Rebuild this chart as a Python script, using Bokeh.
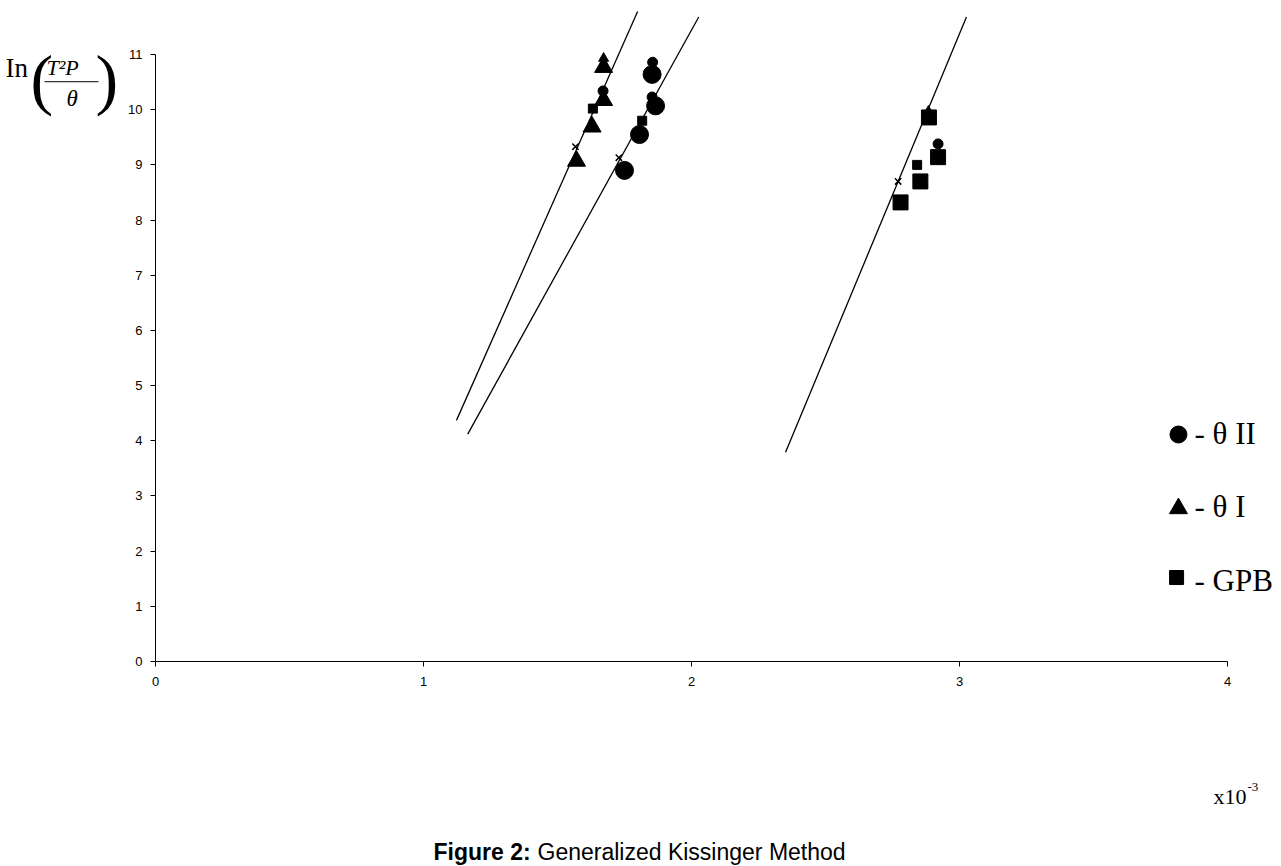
from bokeh.plotting import figure
from bokeh.layouts import row, column
from bokeh.models import Label, FixedTicker, Range1d
from bokeh.core.properties import value
from bokeh.embed import file_html
from bokeh.resources import INLINE

# ---------------- data ----------------
x_ticks = [0, 1, 2, 3, 4]
y_ticks = [0, 1, 2, 3, 4, 5, 6, 7, 8, 9, 10, 11]

# fitted straight lines (end points)
line1_x = [1.123, 1.799]
line1_y = [4.37, 11.78]
line2_x = [1.165, 2.027]
line2_y = [4.12, 11.68]
line3_x = [2.351, 3.026]
line3_y = [3.79, 11.68]

# theta II (circles)
circle_x = [1.750, 1.806, 1.853, 1.866]
circle_y = [8.90, 9.55, 10.64, 10.07]
small_circle_x = [1.670, 1.853, 1.855, 2.920]
small_circle_y = [10.34, 10.23, 10.86, 9.38]

# theta I (triangles)
tri_x = [1.571, 1.629, 1.672, 1.672]
tri_y = [9.07, 9.69, 10.17, 10.77]
small_tri_x = [1.672, 2.884]
small_tri_y = [10.93, 9.97]

# GPB (squares)
sq_x = [2.780, 2.854, 2.920, 2.886]
sq_y = [8.32, 8.70, 9.14, 9.86]
small_sq_x = [1.632, 1.816, 2.842]
small_sq_y = [10.02, 9.80, 9.00]

# points on the fitted lines (crosses)
cross_x = [1.567, 1.729, 2.771]
cross_y = [9.33, 9.13, 8.70]

legend_labels = ["- \u03b8 II", "- \u03b8 I", "- GPB"]
y_title_parts = ["In", "(", ")", "T\u00b2P", "\u03b8"]
x_factor = ["x10", "-3"]
caption_bold = "Figure 2:"
caption_text = "Generalized Kissinger Method"

SERIF = "Liberation Serif"
SANS = "Liberation Sans"
BASE_SHIFT = 0.28   # Bokeh places the alphabetic baseline ~0.28 em low

# ---------------- layout sizes ----------------
TOTAL_W = 1280
LEFT_W = 120
TOP_H = 700
BOTTOM_H = 165
PAGE_H = TOP_H + BOTTOM_H


def blank(width, height):
    f = figure(width=width, height=height, output_backend="svg", toolbar_location=None,
               x_axis_type=None, y_axis_type=None,
               x_range=Range1d(0, width), y_range=Range1d(0, height),
               min_border_left=0, min_border_right=0, min_border_top=0, min_border_bottom=0)
    f.outline_line_color = None
    f.background_fill_color = "white"
    f.border_fill_color = "white"
    return f


# ---------------- main plot ----------------
p = figure(width=TOTAL_W - LEFT_W, height=TOP_H, output_backend="svg", toolbar_location=None,
           x_range=Range1d(0, 1125 / 268.0), y_range=Range1d(0, 661 / 55.18),
           min_border_left=155 - LEFT_W, min_border_right=0,
           min_border_top=0, min_border_bottom=TOP_H - 661)
p.outline_line_color = None
p.background_fill_color = "white"
p.border_fill_color = "white"
p.xgrid.grid_line_color = None
p.ygrid.grid_line_color = None

for ax in (p.xaxis[0], p.yaxis[0]):
    ax.axis_line_color = "black"
    ax.axis_line_width = 1
    ax.major_tick_line_color = "black"
    ax.major_tick_out = 5
    ax.major_tick_in = 0
    ax.minor_tick_line_color = None
    ax.major_label_text_font = SANS
    ax.major_label_text_font_size = "13px"
    ax.major_label_text_color = "black"

p.xaxis[0].major_label_standoff = 10
p.yaxis[0].major_label_standoff = 8
p.xaxis[0].ticker = FixedTicker(ticks=x_ticks)
p.yaxis[0].ticker = FixedTicker(ticks=y_ticks)
p.xaxis[0].bounds = (0, 4)
p.yaxis[0].bounds = (0, 11)

# fitted lines
for lx, ly in ((line1_x, line1_y), (line2_x, line2_y), (line3_x, line3_y)):
    p.line(lx, ly, line_color="black", line_width=1.3)

# markers
p.scatter(circle_x, circle_y, marker="circle", size=18, fill_color="black", line_color="black")
p.scatter(tri_x, tri_y, marker="triangle", size=18, fill_color="black", line_color="black")
p.scatter(sq_x, sq_y, marker="square", size=15, fill_color="black", line_color="black")
p.scatter(small_circle_x, small_circle_y, marker="circle", size=10, fill_color="black", line_color="black")
p.scatter(small_tri_x, small_tri_y, marker="triangle", size=10, fill_color="black", line_color="black")
p.scatter(small_sq_x, small_sq_y, marker="square", size=9, fill_color="black", line_color="black")
p.scatter(cross_x, cross_y, marker="x", size=9, line_color="black", line_width=1.5)

# legend (drawn manually, Excel style)
leg_marker_x = [3.817, 3.817, 3.810]
leg_marker_y = [4.114, 2.773, 1.522]
p.scatter([leg_marker_x[0]], [leg_marker_y[0]], marker="circle", size=17, fill_color="black", line_color="black")
p.scatter([leg_marker_x[1]], [leg_marker_y[1]], marker="triangle", size=18, fill_color="black", line_color="black")
p.scatter([leg_marker_x[2]], [leg_marker_y[2]], marker="square", size=14, fill_color="black", line_color="black")
LEG_SIZE = 31
for txt, page_base in zip(legend_labels, [442, 515, 589]):
    yb = (661 - (page_base - BASE_SHIFT * LEG_SIZE)) / 55.18
    p.add_layout(Label(x=3.877, y=yb, text=txt, text_font=SERIF,
                       text_font_size=f"{LEG_SIZE}px", text_color="black",
                       text_baseline="alphabetic", text_align="left"))


def put(f, fig_h, x, page_base, text, size, style="normal", font=SERIF):
    # page_base: wanted baseline in page pixels from the top of this figure's row
    y = fig_h - (page_base - BASE_SHIFT * size)
    f.text(x=[x], y=[y], text=[text], text_font=value(font), text_font_size=value(f"{size}px"),
           text_font_style=style, text_color="black",
           text_baseline="alphabetic", text_align="left")


# ---------------- y axis title: In( T^2 P / theta ) ----------------
left = blank(LEFT_W, TOP_H)
put(left, TOP_H, 5, 79, y_title_parts[0], 27)
put(left, TOP_H, 30, 102, y_title_parts[1], 68)
put(left, TOP_H, 95, 102, y_title_parts[2], 68)
put(left, TOP_H, 46, 77, y_title_parts[3], 22, "italic")
put(left, TOP_H, 66, 110, y_title_parts[4], 23, "italic")
left.line([44, 98], [TOP_H - 86, TOP_H - 86], line_color="black", line_width=1)

# ---------------- bottom: scale factor and caption ----------------
bottom = blank(TOTAL_W, BOTTOM_H)
put(bottom, PAGE_H, 1213, 802, x_factor[0], 22)
put(bottom, PAGE_H, 1247, 790, x_factor[1], 13)
put(bottom, PAGE_H, 433, 858, caption_bold, 23, "bold", SANS)
put(bottom, PAGE_H, 537, 858, caption_text, 23, "normal", SANS)

layout = column(row(left, p), bottom)
open("out.html", "w").write(file_html(layout, INLINE))
